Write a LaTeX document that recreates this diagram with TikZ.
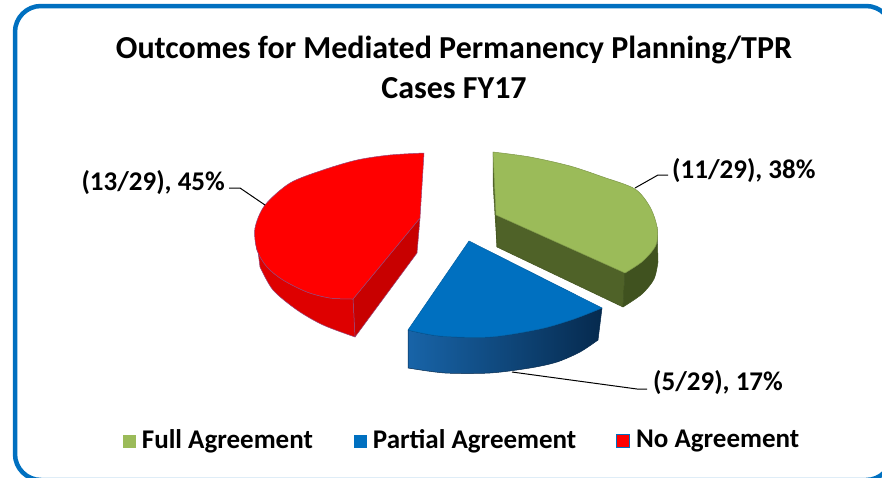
\documentclass[tikz,border=0pt]{standalone}
\usepackage{fontspec}
\setmainfont{Carlito}
\usetikzlibrary{positioning}
\definecolor{frameblue}{RGB}{0,112,192}
\definecolor{fullgreen}{RGB}{155,187,89}
\definecolor{greencut}{RGB}{79,98,40}
\definecolor{greenside}{RGB}{64,82,31}
\definecolor{partblue}{RGB}{0,112,192}
\definecolor{bluelight}{RGB}{24,100,168}
\definecolor{bluedark}{RGB}{6,42,78}
\definecolor{noredtop}{RGB}{255,0,0}
\definecolor{noredside}{RGB}{222,0,0}
\definecolor{noredcut}{RGB}{200,0,0}
\definecolor{rededge}{RGB}{150,70,120}
\tikzset{
	lbl/.style={font=\fontsize{27}{30}\selectfont\bfseries, inner sep=0pt},
	leader/.style={draw=black, line width=1pt},
	rim/.style={draw=#1, line width=0.5pt, line join=round},
	key/.style={minimum size=13pt, inner sep=0pt},
	legtxt/.style={font=\fontsize{27}{29}\selectfont\bfseries, inner sep=0pt}
}

\begin{document}
\begin{tikzpicture}[x=1pt,y=-1pt]
    \useasboundingbox (0,0) rectangle (882,477);
    \draw[frameblue, line width=4.5pt, rounded corners=26pt] (15,6) rectangle (892,480);
    \node[font=\fontsize{32}{40}\selectfont\bfseries, align=center] (title) at (454,67) {Outcomes for Mediated Permanency Planning/TPR\\Cases FY17};
    % No Agreement
    \coordinate (Pr) at (420,218);
    \coordinate (Tr) at (424,153);
    \coordinate (Vr) at (353,299);
    \coordinate (PrB) at (417,253);
    \coordinate (VrB) at (355,337);
    \filldraw[fill=noredcut, rim=rededge] (Pr) -- (Vr) -- (VrB) -- (PrB) -- cycle;
    \filldraw[fill=noredside, rim=rededge] plot[smooth] coordinates {(255,228) (257,250) (267,267) (283,280) (307,292) (330,298) (353,299)} -- (VrB) -- plot[smooth] coordinates {(355,337) (323,325) (297,310) (273,290) (260,267)} -- cycle;
    \filldraw[fill=noredtop, rim=rededge] (Pr) -- (Tr) -- plot[smooth] coordinates {(424,153) (390,155) (357,160) (323,170) (290,183) (265,205) (255,228) (257,250) (267,267) (283,280) (307,292) (330,298) (353,299)} -- cycle;
    % Full Agreement
    \coordinate (Pg) at (496,215);
    \coordinate (Tg) at (493,152);
    \coordinate (Eg) at (625,273);
    \coordinate (TgB) at (493,183);
    \coordinate (PgB) at (497,247);
    \coordinate (EgB) at (623,307);
    \filldraw[fill=greencut, rim=greencut] (Tg) -- (Pg) -- (PgB) -- (TgB) -- cycle;
    \filldraw[fill=greencut, rim=greenside] (Pg) -- (Eg) -- (EgB) -- (PgB) -- cycle;
    \filldraw[fill=greenside, rim=greenside] plot[smooth] coordinates {(657,227) (656,245) (643,261) (625,273)} -- (EgB) -- plot[smooth] coordinates {(623,307) (642,294) (654,279) (658,262)} -- cycle;
    \filldraw[fill=fullgreen, rim=fullgreen!80!black] (Pg) -- (Tg) -- plot[smooth] coordinates {(493,152) (530,157) (570,166) (603,177) (635,189) (650,207) (657,227) (656,245) (643,261) (625,273)} -- cycle;
    % Partial Agreement
    \coordinate (Pb) at (469,241);
    \coordinate (Lb) at (408,330);
    \coordinate (Rb) at (602,308);
    \coordinate (LbB) at (408,368);
    \coordinate (RbB) at (598,340);
    \draw[left color=bluelight, right color=bluedark, rim=bluedark] plot[smooth] coordinates {(408,330) (440,336) (490,337) (540,329) (574,319) (602,308)} -- (RbB) -- plot[smooth] coordinates {(598,340) (580,352) (557,362) (530,368) (490,373) (445,373) (408,368)} -- cycle;
    \filldraw[fill=partblue, rim=partblue!85!black] (Pb) -- (Lb) -- plot[smooth] coordinates {(408,330) (440,336) (490,337) (540,329) (574,319) (602,308)} -- cycle;
    % labels
    \coordinate (noknee) at (240,188);
    \coordinate (norim) at (265,205);
    \coordinate (fullknee) at (658,175);
    \coordinate (fullrim) at (635,188);
    \coordinate (partknee) at (637,389);
    \coordinate (partrim) at (512,372);
    \node[lbl, anchor=base east] (lblNo) at (225,190) {(13/29), 45\%};
    \node[lbl, anchor=base west] (lblFull) at (672,178) {(11/29), 38\%};
    \node[lbl, anchor=base west] (lblPart) at (653,390) {(5/29), 17\%};
    \draw[leader] ([xshift=4pt,yshift=2pt]lblNo.base east) -- (noknee) -- (norim);
    \draw[leader] ([xshift=-4pt,yshift=3pt]lblFull.base west) -- (fullknee) -- (fullrim);
    \draw[leader] ([xshift=-6pt,yshift=1pt]lblPart.base west) -- (partknee) -- (partrim);
    % legend
    \node[key, fill=fullgreen] (keyFull) at (129,441) {};
    \node[legtxt, right=6pt of keyFull] (txtFull) {Full Agreement};
    \node[key, fill=partblue] (keyPart) at (360,441) {};
    \node[legtxt, right=6pt of keyPart] (txtPart) {Partial Agreement};
    \node[key, fill=noredtop, draw=partblue, line width=0.8pt] (keyNo) at (623,441) {};
    \node[legtxt, right=6pt of keyNo] (txtNo) {No Agreement};
\end{tikzpicture}
\end{document}
